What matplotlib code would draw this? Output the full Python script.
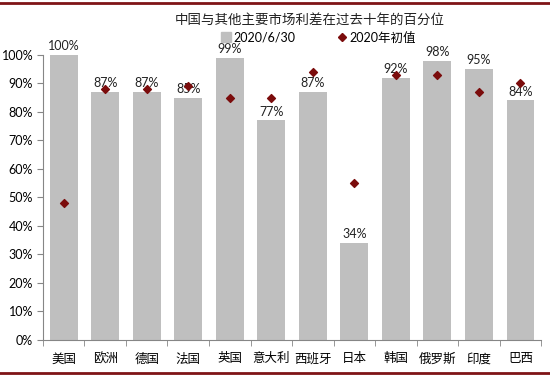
import numpy as np
import matplotlib.pyplot as plt
from matplotlib.lines import Line2D

plt.rcParams['font.family'] = ['Lato', 'Noto Sans CJK SC', 'DejaVu Sans']

# data
markets = ['美国', '欧洲', '德国', '法国', '英国', '意大利', '西班牙',
           '日本', '韩国', '俄罗斯', '印度', '巴西']
pct_now = [100, 87, 87, 85, 99, 77, 87, 34, 92, 98, 95, 84]       # 2020/6/30
pct_start = [48, 88, 88, 89, 85, 85, 94, 55, 93, 93, 87, 90]      # 2020年初值

bar_color = '#bfbfbf'
dot_color = '#7b0c0c'
cjk = ['Noto Sans CJK SC', 'DejaVu Sans']

fig = plt.figure(figsize=(5.5, 3.76), dpi=100)
ax = fig.add_axes([0.078, 0.096, 0.906, 0.758])

x = np.arange(len(markets))
ax.bar(x, pct_now, width=0.67, color=bar_color, zorder=2)
ax.scatter(x, pct_start, marker='D', s=16, color=dot_color, zorder=3)

for xi, v in zip(x, pct_now):
    ax.annotate('%d%%' % v, (xi, v), xytext=(0, 2), textcoords='offset points',
                ha='center', va='bottom', fontsize=9, color='#222222', zorder=1)

ax.set_xlim(-0.5, len(markets) - 0.5)
ax.set_ylim(0, 100)
ax.set_yticks(np.arange(0, 101, 10))
ax.set_yticklabels(['%d%%' % t for t in range(0, 101, 10)], fontsize=9)
ax.set_xticks(x)
ax.set_xticklabels(markets, family=cjk, fontsize=9)
ax.set_xticks(np.arange(-0.5, len(markets), 1), minor=True)
ax.tick_params(axis='x', which='major', length=0, pad=9)
ax.tick_params(axis='x', which='minor', length=4, color='#868686')
ax.tick_params(axis='y', length=4, color='#868686', pad=3)

for s in ['top', 'right']:
    ax.spines[s].set_visible(False)
for s in ['left', 'bottom']:
    ax.spines[s].set_color('#868686')
    ax.spines[s].set_linewidth(0.8)

# title and legend
fig.text(0.563, 0.947, '中国与其他主要市场利差在过去十年的百分位', family=cjk,
         fontsize=9.7, ha='center', va='center', color='#222222')
handles = [Line2D([], [], marker='s', linestyle='', color=bar_color, markersize=7),
           Line2D([], [], marker='D', linestyle='', color=dot_color, markersize=4)]
fig.legend(handles, ['2020/6/30', '2020年初值'], loc='center',
           bbox_to_anchor=(0.578, 0.9), ncol=2, frameon=False,
           prop={'family': ['Lato', 'Noto Sans CJK SC'], 'size': 9},
           handlelength=1, handletextpad=0.1, columnspacing=3.2,
           borderaxespad=0)

# dark red rules at top and bottom
fig.add_artist(Line2D([0, 1], [0.991, 0.991], color='#7f1416', linewidth=2,
                      transform=fig.transFigure))
fig.add_artist(Line2D([0, 1], [0.009, 0.009], color='#7f1416', linewidth=2,
                      transform=fig.transFigure))

fig.savefig('out.png', dpi=100)
